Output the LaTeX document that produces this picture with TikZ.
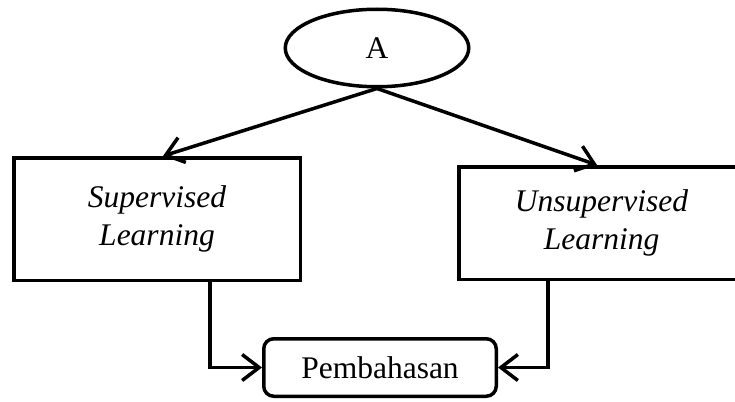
\documentclass[tikz,border=0pt]{standalone}
\usepackage{fontspec}
\setmainfont{Liberation Serif}
\usetikzlibrary{arrows.meta,shapes.geometric}

\tikzset{
  stroke/.style={line width=3.5pt},
  startnode/.style={stroke, draw, ellipse, minimum width=183.5pt, minimum height=77.5pt, inner sep=0pt},
  methodbox/.style={stroke, draw, rectangle, align=center, inner sep=0pt,
    font=\fontsize{31.5}{38}\selectfont\itshape},
  resultbox/.style={stroke, draw, rectangle, rounded corners=10pt, inner sep=0pt,
    minimum width=232.5pt, minimum height=57.5pt, font=\fontsize{31.5}{38}\selectfont},
  flow/.style={stroke, -{Straight Barb[length=17pt,width=26pt,line width=3.5pt]}},
}

\begin{document}
\begin{tikzpicture}[x=1pt,y=-1pt]
  \clip (0,0) rectangle (735,401);
  \fill[white] (0,0) rectangle (735,401);

  % start point
  \node[startnode, font=\fontsize{31.5}{38}\selectfont] (a) at (377,48) {A};

  % the two learning approaches
  \node[methodbox, minimum width=286.5pt, minimum height=122.5pt] (sup) at (157,219)
    {Supervised\\Learning};
  \node[methodbox, minimum width=285.5pt, minimum height=112.5pt] (uns) at (601.5,223)
    {Unsupervised\\Learning};

  % discussion
  \node[resultbox] (pem) at (380,367.5) {Pembahasan};

  % connectors
  \draw[flow] (a.south) -- ([xshift=6pt]sup.north);
  \draw[flow] (a.south) -- ([xshift=-4.5pt]uns.north);
  \draw[flow] ([xshift=53pt]sup.south) |- (pem.west);
  \draw[flow] ([xshift=-53.5pt]uns.south) |- (pem.east);
\end{tikzpicture}
\end{document}
